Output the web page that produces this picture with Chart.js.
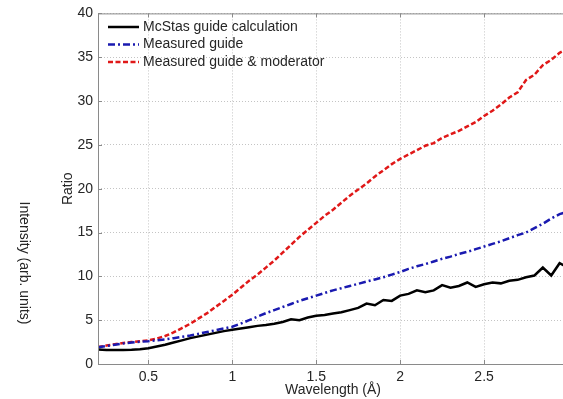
<!DOCTYPE html>
<html>
<head>
<meta charset="utf-8">
<script src="https://cdn.jsdelivr.net/npm/chart.js@4/dist/chart.umd.min.js"></script>
<style>
html,body{margin:0;padding:0;background:#fff;overflow:hidden;width:563px;height:399px;}
#wrap{position:absolute;left:0;top:0;width:580px;height:399px;}
</style>
</head>
<body>
<div id="wrap"><canvas id="c" width="580" height="399"></canvas></div>
<script>
const wavelength = [0.20,0.25,0.30,0.35,0.40,0.45,0.50,0.55,0.60,0.65,0.70,0.75,0.80,0.85,0.90,0.95,1.00,1.05,1.10,1.15,1.20,1.25,1.30,1.35,1.40,1.45,1.50,1.55,1.60,1.65,1.70,1.75,1.80,1.85,1.90,1.95,2.00,2.05,2.10,2.15,2.20,2.25,2.30,2.35,2.40,2.45,2.50,2.55,2.60,2.65,2.70,2.75,2.80,2.85,2.90,2.95,3.00];
const mcstasGuide = [1.65,1.60,1.60,1.60,1.62,1.68,1.80,2.00,2.20,2.45,2.70,2.95,3.15,3.35,3.55,3.75,3.90,4.05,4.20,4.35,4.45,4.60,4.80,5.10,5.00,5.30,5.50,5.60,5.75,5.90,6.15,6.40,6.90,6.70,7.30,7.20,7.80,8.00,8.40,8.20,8.40,9.00,8.70,8.90,9.30,8.80,9.10,9.30,9.20,9.50,9.60,9.90,10.10,11.00,10.10,11.50,11.00];
const measuredGuide = [1.90,2.05,2.20,2.35,2.45,2.55,2.60,2.70,2.80,2.95,3.10,3.25,3.45,3.65,3.85,4.05,4.25,4.60,5.00,5.40,5.80,6.15,6.50,6.85,7.20,7.50,7.80,8.10,8.40,8.65,8.90,9.15,9.40,9.65,9.90,10.20,10.50,10.85,11.15,11.40,11.70,12.00,12.25,12.55,12.80,13.10,13.40,13.70,14.00,14.35,14.70,15.00,15.50,16.00,16.60,17.10,17.40];
const measuredGuideModerator = [1.95,2.10,2.25,2.40,2.50,2.60,2.70,2.90,3.20,3.60,4.10,4.60,5.20,5.80,6.50,7.20,7.90,8.70,9.50,10.20,11.00,11.80,12.70,13.60,14.50,15.30,16.10,16.90,17.60,18.40,19.20,19.90,20.60,21.40,22.10,22.80,23.40,23.90,24.40,24.90,25.20,25.80,26.20,26.60,27.10,27.60,28.30,28.90,29.60,30.40,31.00,32.40,33.00,34.10,34.70,35.50,36.00];
const seriesLabels = ["McStas guide calculation","Measured guide","Measured guide & moderator"];
const xTicks = [0.5,1,1.5,2,2.5,3];
const yTicks = [0,5,10,15,20,25,30,35,40];

const FONT = "'Liberation Sans', Arial, sans-serif";
const TXT = '#262626';

function pts(ys){ return wavelength.map((x,i)=>({x:x,y:ys[i]})); }

const framePlugin = {
  id:'frame',
  afterDatasetsDraw(chart){
    const {ctx, chartArea:a, scales} = chart;
    ctx.save();
    ctx.strokeStyle = '#8a8a8a';
    ctx.lineWidth = 1;
    ctx.setLineDash([]);
    ctx.beginPath();
    ctx.moveTo(a.left+0.5, a.bottom+0.5);
    ctx.lineTo(a.left+0.5, a.top+0.5);
    ctx.lineTo(a.right, a.top+0.5);
    ctx.moveTo(a.left+0.5, a.bottom+0.5);
    ctx.lineTo(a.right, a.bottom+0.5);
    ctx.stroke();
    // inward ticks
    ctx.beginPath();
    xTicks.forEach(v=>{
      const px = Math.round(scales.x.getPixelForValue(v))+0.5;
      ctx.moveTo(px,a.bottom); ctx.lineTo(px,a.bottom-4);
      ctx.moveTo(px,a.top); ctx.lineTo(px,a.top+4);
    });
    yTicks.forEach(v=>{
      const py = Math.round(scales.y.getPixelForValue(v))+0.5;
      ctx.moveTo(a.left,py); ctx.lineTo(a.left+4,py);
    });
    ctx.stroke();
    // legend
    ctx.font = '14px ' + FONT;
    ctx.textBaseline = 'middle';
    ctx.textAlign = 'left';
    chart.data.datasets.forEach((ds,i)=>{
      const y = 27 + i*17.5;
      ctx.strokeStyle = ds.borderColor;
      ctx.lineWidth = ds.borderWidth;
      ctx.setLineDash(ds.borderDash || []);
      ctx.beginPath();
      ctx.moveTo(108,y); ctx.lineTo(139,y);
      ctx.stroke();
      ctx.setLineDash([]);
      ctx.fillStyle = TXT;
      ctx.fillText(ds.label, 143, y);
    });
    // side label from neighbouring panel
    ctx.save();
    ctx.translate(24, 263);
    ctx.rotate(Math.PI/2);
    ctx.textAlign = 'center';
    ctx.fillStyle = TXT;
    ctx.fillText('Intensity (arb. units)', 0, 0);
    ctx.restore();
    ctx.restore();
  }
};

new Chart(document.getElementById('c'), {
  type:'line',
  data:{
    datasets:[
      {label:seriesLabels[0], data:pts(mcstasGuide), borderColor:'#000000', borderWidth:2.5, pointRadius:0, fill:false, tension:0},
      {label:seriesLabels[1], data:pts(measuredGuide), borderColor:'#1a1ab0', borderWidth:2.5, borderDash:[7,3,2,3], pointRadius:0, fill:false, tension:0},
      {label:seriesLabels[2], data:pts(measuredGuideModerator), borderColor:'#e01818', borderWidth:2.5, borderDash:[5,2.5], pointRadius:0, fill:false, tension:0}
    ]
  },
  options:{
    responsive:false,
    animation:false,
    devicePixelRatio:1,
    layout:{padding:{left:0,top:11,right:12,bottom:0}},
    plugins:{legend:{display:false}, tooltip:{enabled:false}},
    scales:{
      x:{
        type:'linear', min:0.2, max:3,
        afterBuildTicks(s){ s.ticks = xTicks.map(v=>({value:v})); },
        afterFit(s){ s.height = 35; },
        ticks:{color:TXT, font:{family:FONT,size:14}, padding:5, maxRotation:0, autoSkip:false,
          callback:(v)=>String(v)},
        grid:{color:'#c4c4c4', lineWidth:1, drawTicks:false},
        border:{display:false, dash:[1,2]},
        title:{display:true, text:'Wavelength (Å)', color:TXT, font:{family:FONT,size:14}, padding:{top:0,bottom:0}}
      },
      y:{
        type:'linear', min:0, max:40,
        afterBuildTicks(s){ s.ticks = yTicks.map(v=>({value:v})); },
        afterFit(s){ s.width = 98; },
        ticks:{color:TXT, font:{family:FONT,size:14}, padding:5, autoSkip:false},
        grid:{color:'#c4c4c4', lineWidth:1, drawTicks:false},
        border:{display:false, dash:[1,2]},
        title:{display:true, text:'Ratio', color:TXT, font:{family:FONT,size:14}, padding:{top:60,bottom:0}}
      }
    }
  },
  plugins:[framePlugin]
});
</script>
</body>
</html>
